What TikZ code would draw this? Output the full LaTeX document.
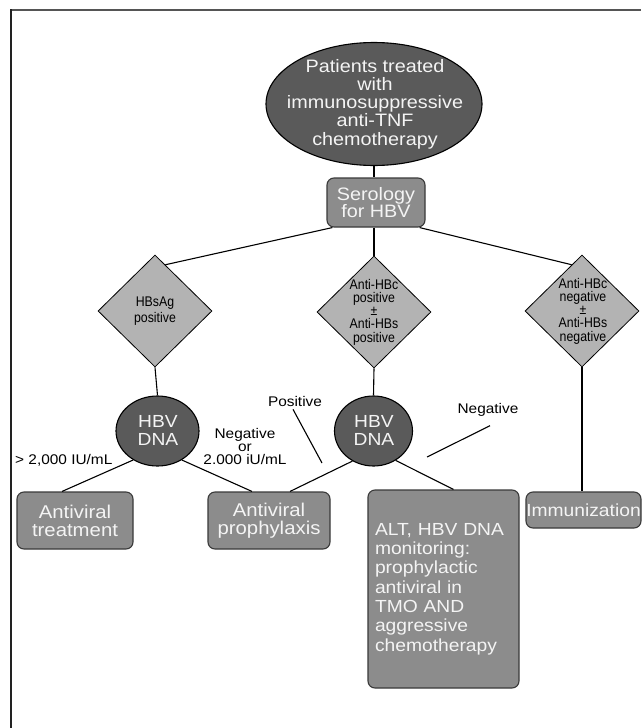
\documentclass[tikz,border=0pt]{standalone}
\usepackage{fontspec}
\setmainfont{Liberation Sans}
\newfontfamily\wfont[FakeStretch=1.1]{Liberation Sans}
\newfontfamily\nfont[FakeStretch=0.88]{Liberation Sans}
\usetikzlibrary{shapes.geometric,calc}
\definecolor{darkf}{HTML}{5A5A5A}
\definecolor{midf}{HTML}{8C8C8C}
\definecolor{lightf}{HTML}{B3B3B3}
\definecolor{boxline}{HTML}{3A3A3A}
\definecolor{txtw}{HTML}{F4F4F4}
\definecolor{frametop}{HTML}{555555}
\definecolor{frameleft}{HTML}{222222}
\begin{document}
\begin{tikzpicture}[x=1pt,y=-1pt,
  darkell/.style={ellipse, draw=black, line width=1.1pt, fill=darkf, inner sep=0pt},
  wtxt/.style={text=txtw, align=center, inner sep=0pt},
  gbox/.style={rectangle, rounded corners=7pt, draw=boxline, line width=1.1pt, fill=midf, text=txtw, align=center, inner sep=0pt},
  dia/.style={diamond, draw=black, line width=0.8pt, fill=lightf, inner sep=0pt},
  ntxt/.style={font=\nfont\fontsize{14}{13.2}\selectfont, align=center, inner sep=0pt},
  lab/.style={font=\wfont\fontsize{14}{13}\selectfont, align=center, inner sep=0pt},
  conn/.style={draw=black, line width=1.1pt}]
\useasboundingbox (0,0) rectangle (641,728);
\fill[white] (0,0) rectangle (641,728);
% frame
\draw[draw=frametop, line width=2pt] (11,10) -- (641,10);
\draw[draw=frameleft, line width=1.8pt] (11,9) -- (11,728);
% top
\node[darkell, minimum width=216pt, minimum height=123pt] (top) at (374,104) {};
\node[wtxt, font=\wfont\fontsize{18}{18.3}\selectfont] (toptxt) at (375,104) {Patients treated\\with\\immunosuppressive\\anti-TNF\\chemotherapy};
\node[gbox, minimum width=98pt, minimum height=49pt, font=\wfont\fontsize{18}{16.7}\selectfont] (sero) at (376,202.5) {Serology\\for HBV};
% diamonds
\node[dia, minimum width=114pt, minimum height=112pt] (d1) at (155,311) {};
\node[ntxt, font=\nfont\fontsize{14}{15.7}\selectfont] (d1t) at (155,311) {HBsAg\\positive};
\node[dia, minimum width=114pt, minimum height=112pt] (d2) at (374,312) {};
\node[ntxt] (d2t) at (374,312) {Anti-HBc\\positive\\±\\Anti-HBs\\positive};
\node[dia, minimum width=114pt, minimum height=112pt] (d3) at (582,311) {};
\node[ntxt] (d3t) at (583,311) {Anti-HBc\\negative\\±\\Anti-HBs\\negative};
% HBV DNA
\node[darkell, minimum width=83pt, minimum height=70pt] (e1) at (157.5,431) {};
\node[wtxt, font=\wfont\fontsize{17.5}{18}\selectfont] (e1t) at (158,430) {HBV\\DNA};
\node[darkell, minimum width=78pt, minimum height=70pt] (e2) at (373.5,431) {};
\node[wtxt, font=\wfont\fontsize{17.5}{18}\selectfont] (e2t) at (374,430) {HBV\\DNA};
% boxes
\node[gbox, minimum width=116pt, minimum height=57pt, font=\wfont\fontsize{18.5}{18}\selectfont] (tr) at (75,520.5) {Antiviral\\treatment};
\node[gbox, minimum width=122pt, minimum height=57pt, font=\wfont\fontsize{18.5}{18}\selectfont] (pr) at (269,520.5) {Antiviral\\prophylaxis};
\node[gbox, minimum width=151pt, minimum height=198pt, text width=137pt, align=left, inner xsep=7pt, font=\wfont\fontsize{17.5}{19.3}\selectfont] (alt) at (443.5,589) {ALT, HBV DNA\\monitoring:\\prophylactic\\antiviral in\\TMO AND\\aggressive\\chemotherapy};
\node[gbox, minimum width=115pt, minimum height=36pt, font=\wfont\fontsize{17.5}{17}\selectfont] (imm) at (583.5,510) {Immunization};
% labels
\node[lab, anchor=west] (l1) at (15,460) {> 2,000 IU/mL};
\node[lab] (l2) at (245,446) {Negative\\or\\2.000 iU/mL};
\node[lab] (l3) at (295,401) {Positive};
\node[lab] (l4) at (488,410) {Negative};
\coordinate (p1b) at (322,463);
\coordinate (p2b) at (427,457);
% connectors
\draw[conn] (top.south) -- (top.south |- sero.north);
\draw[conn] ([xshift=6pt]sero.south west) -- ($(d1.north)!0.18!(d1.east)$);
\draw[conn] (d2.north |- sero.south) -- (d2.north);
\draw[conn] ([xshift=-6pt]sero.south east) -- ($(d3.north)!0.18!(d3.west)$);
\draw[conn] (d1.south) -- (e1.north);
\draw[conn] (d2.south) -- (e2.north);
\draw[conn] (e1.230) -- ([xshift=-13pt]tr.north);
\draw[conn] (e1.310) -- ([xshift=-17pt]pr.north);
\draw[conn] (e2.235) -- ([xshift=21pt]pr.north);
\draw[conn] (e2.307) -- ([xshift=10pt]alt.north);
\draw[conn] (d3.south) -- (d3.south |- imm.north);
\draw[conn] ([xshift=-2pt,yshift=-3pt]l3.south) -- (p1b);
\draw[conn] ([xshift=2pt,yshift=-9pt]l4.south) -- (p2b);
\end{tikzpicture}
\end{document}
